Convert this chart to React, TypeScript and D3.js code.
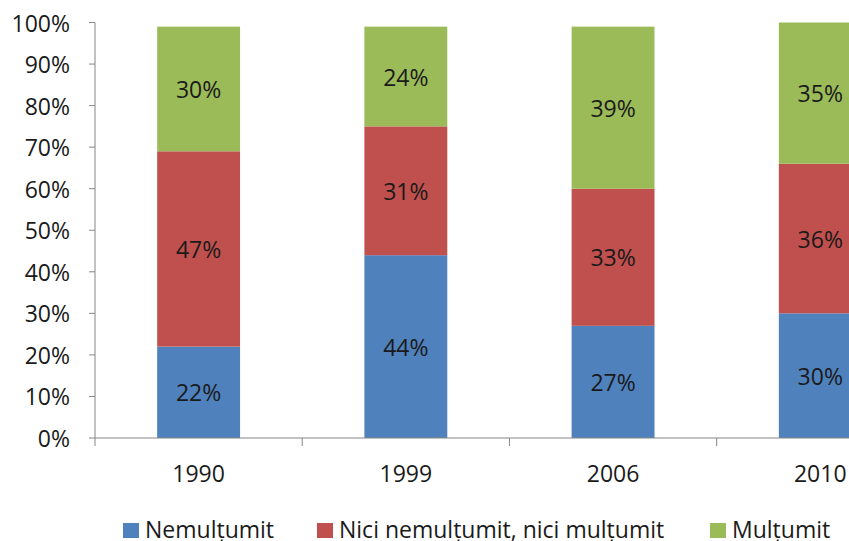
import React from "react";
import * as d3 from "d3";

const categories = ["1990", "1999", "2006", "2010"];
const seriesNames = ["Nemulțumit", "Nici nemulțumit, nici mulțumit", "Mulțumit"];
const nemultumit = [22, 44, 27, 30];
const nici = [47, 31, 33, 36];
const multumit = [30, 24, 39, 35];
const yTicks = [0, 10, 20, 30, 40, 50, 60, 70, 80, 90, 100];
const colors = ["#4F81BD", "#C0504D", "#9BBB59"];

const W = 849;
const H = 541;
const FONT = "'Open Sans', 'Noto Sans', sans-serif";
const FS = 23;

export default function App() {
  const x = d3.scaleBand().domain(categories).range([95, 923.9]).paddingInner(0.6).paddingOuter(0.3);
  const y = d3.scaleLinear().domain([0, 100]).range([438, 22.5]).clamp(true);
  const table = categories.map((c, i) => ({ cat: c, s0: nemultumit[i], s1: nici[i], s2: multumit[i] }));
  const stack = d3.stack<any>().keys(["s0", "s1", "s2"]);
  const layers = stack(table);
  const step = x.step();
  const x0 = 95;
  const tickXs = d3.range(categories.length + 1).map((i) => x0 + i * step);

  const legendItems = [
    { name: seriesNames[0], color: colors[0], sx: 123, tx: 145 },
    { name: seriesNames[1], color: colors[1], sx: 317, tx: 339 },
    { name: seriesNames[2], color: colors[2], sx: 710, tx: 732 },
  ];

  return (
    <svg width={W} height={H} style={{ position: "absolute", left: 0, top: 0, background: "#fff" }} fontFamily={FONT}>
      {layers.map((layer, li) => (
        <g key={li}>
          {layer.map((d, i) => {
            const bx = x(categories[i])!;
            const y1 = y(d[1]);
            const y0 = y(d[0]);
            const val = d[1] - d[0];
            return (
              <g key={i}>
                <rect x={bx} y={y1} width={x.bandwidth()} height={y0 - y1} fill={colors[li]} />
                <text
                  x={bx + x.bandwidth() / 2}
                  y={(y0 + y1) / 2}
                  textAnchor="middle"
                  dominantBaseline="central"
                  fontSize={FS}
                  fill="#1a1a1a"
                >
                  {val}%
                </text>
              </g>
            );
          })}
        </g>
      ))}
      {/* y axis */}
      <line x1={95} x2={95} y1={y(100)} y2={y(0)} stroke="#868686" strokeWidth={1} />
      {yTicks.map((t) => (
        <g key={t}>
          <line x1={89} x2={95} y1={y(t)} y2={y(t)} stroke="#868686" />
          <text x={70} y={y(t)} textAnchor="end" dominantBaseline="central" fontSize={FS} fill="#1a1a1a">
            {t}%
          </text>
        </g>
      ))}
      {/* x axis */}
      <line x1={95} x2={W} y1={y(0)} y2={y(0)} stroke="#868686" />
      {tickXs.map((tx, i) => (
        <line key={i} x1={tx} x2={tx} y1={y(0)} y2={y(0) + 8} stroke="#868686" />
      ))}
      {categories.map((c) => (
        <text key={c} x={x(c)! + x.bandwidth() / 2} y={482} textAnchor="middle" fontSize={FS} fill="#1a1a1a">
          {c}
        </text>
      ))}
      {/* legend */}
      {legendItems.map((l) => (
        <g key={l.name}>
          <rect x={l.sx} y={523} width={16} height={15} fill={l.color} />
          <text x={l.tx} y={538} fontSize={FS} fill="#1a1a1a">
            {l.name}
          </text>
        </g>
      ))}
    </svg>
  );
}
